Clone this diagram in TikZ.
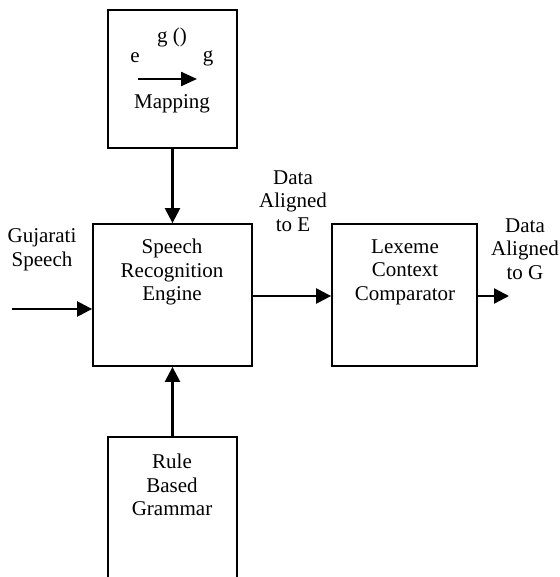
\documentclass[tikz,border=0pt]{standalone}
\usepackage{fontspec}
\setmainfont{Liberation Serif}
\usetikzlibrary{arrows.meta}
\begin{document}
\begin{tikzpicture}[x=1pt,y=-1pt,
  box/.style={draw,line width=1.8pt,inner sep=0pt},
  lbl/.style={align=center,inner sep=0pt,font=\fontsize{21}{23.5}\selectfont},
  conn/.style={line width=2.4pt,-{Triangle[length=15pt,width=15pt]}}]
\useasboundingbox (0,0) rectangle (559,577);
\clip (0,0) rectangle (559,577);
% boxes
\node[box,minimum width=129pt,minimum height=138pt] (map) at (172.5,79) {};
\node[box,minimum width=159pt,minimum height=142pt] (sre) at (172.5,295) {};
\node[box,minimum width=145pt,minimum height=142pt] (lcc) at (404.5,295) {};
\node[box,minimum width=129pt,minimum height=160pt] (rbg) at (172.5,517) {};
% texts
\node[lbl] (gfun) at (172,37) {g ()};
\node[lbl] (ee) at (135,58) {e};
\node[lbl] (gg) at (208,58) {g};
\coordinate (ma) at (138,79);
\coordinate (mb) at (197,79);
\draw[line width=2.4pt,-{Triangle[length=16pt,width=14pt]}] (ma) -- (mb);
\node[lbl] (mapt) at (172,104) {Mapping};
\node[lbl] (sret) at (172,272) {Speech\\Recognition\\Engine};
\node[lbl] (lcct) at (405,272) {Lexeme\\Context\\Comparator};
\node[lbl] (rbgt) at (172,485) {Rule\\Based\\Grammar};
\node[lbl] (dae) at (293,201) {Data\\Aligned\\to E};
\node[lbl] (dag) at (525,249) {Data\\Aligned\\to G};
\node[lbl] (guj) at (42,250) {Gujarati\\Speech};
% connectors
\coordinate (inS) at (12,309);
\coordinate (outG) at (509,296);
\draw[conn] (map.south) -- (sre.north);
\draw[conn] (rbg.north) -- (sre.south);
\draw[conn] (inS) -- (sre.west |- inS);
\draw[conn] (sre.east |- outG) -- (lcc.west |- outG);
\draw[conn] (lcc.east |- outG) -- (outG);
\end{tikzpicture}
\end{document}
